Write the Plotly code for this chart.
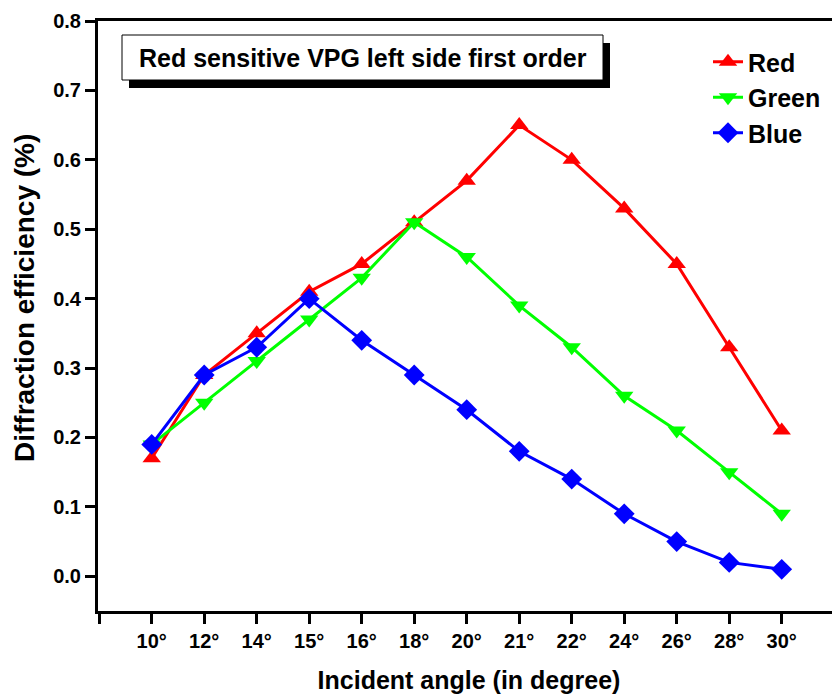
import plotly.graph_objects as go

angles = ["10°", "12°", "14°", "15°", "16°", "18°", "20°", "21°", "22°", "24°", "26°", "28°", "30°"]
red = [0.17, 0.29, 0.35, 0.41, 0.45, 0.51, 0.57, 0.65, 0.60, 0.53, 0.45, 0.33, 0.21]
green = [0.19, 0.25, 0.31, 0.37, 0.43, 0.51, 0.46, 0.39, 0.33, 0.26, 0.21, 0.15, 0.09]
blue = [0.19, 0.29, 0.33, 0.40, 0.34, 0.29, 0.24, 0.18, 0.14, 0.09, 0.05, 0.02, 0.01]
y_ticks = [0.0, 0.1, 0.2, 0.3, 0.4, 0.5, 0.6, 0.7, 0.8]

xpos = list(range(len(angles)))
FONT = "Liberation Sans, Arial, sans-serif"

# page body has an 8px margin: plot area on screen spans x 98..840, y 21..611
def px(sx):
    return (sx - 98) / 742

def py(sy):
    return (611 - sy) / 590

fig = go.Figure()
series = [
    ("Red", red, "#ff0000", "triangle-up", 16),
    ("Green", green, "#00ff00", "triangle-down", 16),
    ("Blue", blue, "#0000ff", "diamond", 16),
]
for name, vals, col, sym, sz in series:
    fig.add_trace(go.Scatter(
        x=xpos, y=vals, name=name, mode="lines+markers",
        line=dict(color=col, width=3),
        marker=dict(symbol=sym, size=sz, color=col),
    ))

fig.update_layout(
    width=832, height=687,
    margin=dict(l=90, r=0, t=13, b=84, autoexpand=False),
    paper_bgcolor="white", plot_bgcolor="white",
    font=dict(family=FONT, size=20, color="black", weight="bold"),
    showlegend=True,
    legend=dict(
        x=px(708), y=py(39), xanchor="left", yanchor="top",
        font=dict(size=25, family=FONT, weight="bold"),
        bgcolor="rgba(0,0,0,0)", tracegroupgap=0,
    ),
    xaxis=dict(
        tickmode="array",
        tickvals=[-1] + xpos,
        ticktext=[""] + angles,
        range=[-1.023, 13.11],
        automargin=False,
        showgrid=False, zeroline=False,
        showline=True, linecolor="black", linewidth=3, mirror=True,
        ticks="outside", ticklen=10, tickwidth=2.5, tickcolor="black",
        tickfont=dict(size=20, family=FONT, weight="bold"),
        title=dict(text="Incident angle (in degree)", standoff=21,
                   font=dict(size=25, family=FONT, weight="bold")),
    ),
    yaxis=dict(
        range=[-0.05, 0.8],
        tickmode="array", tickvals=y_ticks,
        ticktext=[f"{v:.1f}" for v in y_ticks],
        automargin=False,
        showgrid=False, zeroline=False,
        showline=True, linecolor="black", linewidth=3, mirror=False,
        ticks="outside", ticklen=10, tickwidth=2.5, tickcolor="black",
        tickfont=dict(size=20, family=FONT, weight="bold"),
    ),
)

# y-axis title placed as rotated text
fig.add_annotation(xref="paper", yref="paper",
                   x=px(24), y=py(298), xanchor="center", yanchor="middle",
                   text="Diffraction efficiency (%)", textangle=-90,
                   showarrow=False,
                   font=dict(size=28, family=FONT, weight="bold", color="black"))

# title box with drop shadow
fig.add_shape(type="rect", xref="paper", yref="paper",
              x0=px(129), x1=px(610), y0=py(88), y1=py(43),
              fillcolor="black", line=dict(width=0), layer="above")
fig.add_shape(type="rect", xref="paper", yref="paper",
              x0=px(122), x1=px(603), y0=py(80), y1=py(35),
              fillcolor="white", line=dict(color="black", width=1), layer="above")
fig.add_annotation(xref="paper", yref="paper",
                   x=px(362.5), y=py(58),
                   xanchor="center", yanchor="middle",
                   text="Red sensitive VPG left side first order",
                   showarrow=False,
                   font=dict(size=25, family=FONT, weight="bold", color="black"))

fig.write_html("out.html")
